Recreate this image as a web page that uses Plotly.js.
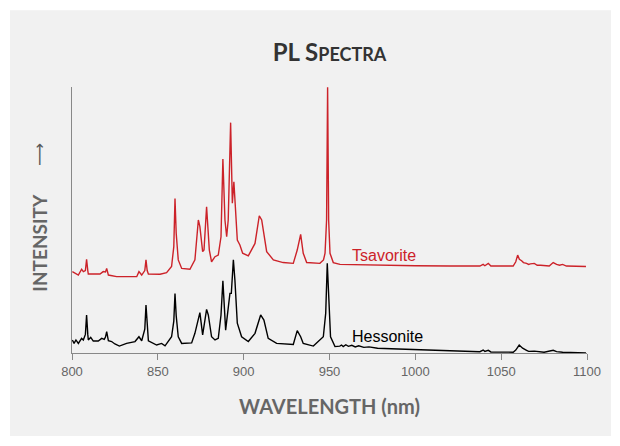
<!DOCTYPE html>
<html>
<head>
<meta charset="utf-8">
<script src="https://cdn.plot.ly/plotly-3.0.1.min.js"></script>
<style>html,body{margin:0;padding:0;background:#fff;}#chart{width:620px;height:446px;}</style>
</head>
<body>
<div id="chart"></div>
<script>
// Wavelength (nm) and relative intensity
const wlTsavorite = [800.2, 801.7, 803.7, 805.6, 806.6, 807.8, 808.5, 809.2, 809.5, 812, 816.3, 818.2, 819.5, 820.2, 821.2, 826, 832, 837.7, 839, 840.6, 842.4, 843.1, 843.8, 844.5, 851.3, 855.1, 858, 859.3, 860, 860.7, 861.9, 863.9, 868.7, 871.6, 873.6, 874.5, 876.1, 876.9, 878.4, 880, 881.3, 883.3, 885.2, 886.8, 887.9, 889.1, 890.1, 891.0, 892.4, 893.4, 894.3, 895.3, 896.3, 897.8, 899.4, 902.7, 906.6, 909.1, 910.5, 913.4, 917.3, 923, 928.9, 931.2, 933.2, 934.7, 936.7, 944.4, 946.5, 947.4, 948.3, 948.9, 949.5, 950.3, 951.5, 952.2, 956.1, 980, 1000, 1020, 1037.6, 1039.5, 1040.5, 1042.5, 1044, 1057, 1058.5, 1059.6, 1060.6, 1061.9, 1063, 1064.8, 1066, 1067, 1069.3, 1071, 1073, 1078, 1080.3, 1082.3, 1084, 1085.8, 1088, 1099.4];
const tsavorite = [30.6, 29.9, 29.3, 31.5, 30.6, 31, 35.2, 31, 29.7, 29.7, 29.7, 30.6, 30.5, 31.8, 29.3, 28.7, 28.6, 28.7, 30.6, 29.3, 31, 35.0, 31, 29.7, 29.6, 30.2, 32.5, 40, 58.1, 45, 35.0, 31.8, 31.5, 35.0, 50.0, 47.5, 38.1, 38.7, 55.0, 38.7, 34.3, 36.2, 36.8, 43.7, 72.9, 50.0, 43.7, 50.0, 86.6, 56.3, 64.4, 52.5, 42.5, 40.6, 37.5, 36.5, 41.2, 51.6, 50.0, 38.1, 35.0, 34.0, 33.7, 38.7, 44.6, 37.5, 34.0, 33.7, 35, 37.5, 50, 99.9, 50, 37.5, 35, 34.0, 33.3, 32.9, 32.8, 32.7, 32.7, 33.3, 32.8, 33.7, 32.7, 32.7, 34.3, 36.8, 35.2, 34.7, 34.0, 33.7, 33.3, 33.5, 33.7, 33.0, 33.0, 32.7, 34.0, 33.3, 33.0, 33.3, 32.7, 32.5];

const wlHessonite = [800.2, 801.2, 802.3, 803.7, 805.6, 806.6, 807.8, 808.5, 809.2, 809.5, 810.9, 812.4, 815.3, 817.3, 818.8, 819.5, 820.2, 821.2, 823.1, 825, 827.6, 831.8, 836.7, 839, 840.6, 842.4, 843.1, 843.8, 844.5, 849.3, 852.2, 854.2, 858, 859.3, 860, 860.7, 861.9, 863.9, 869.7, 871.6, 873.2, 874.5, 876.1, 877.1, 878.4, 879.4, 881.3, 883.3, 885.2, 886.8, 887.9, 889.5, 890.7, 892.0, 892.8, 894.0, 894.9, 896.3, 898.8, 902.7, 906.6, 909.9, 911.8, 914.3, 919.2, 928.9, 931.2, 933.2, 934.7, 940.6, 946.4, 947.8, 948.7, 949.6, 950.6, 953.2, 956, 957, 958, 959.5, 961, 963, 965, 967, 970, 973, 978, 990, 1010, 1030, 1037.6, 1039.5, 1040.5, 1042.5, 1044, 1057, 1058.5, 1060.5, 1062.5, 1064.8, 1066, 1069.3, 1071, 1075, 1080.3, 1082.3, 1085.8, 1099.4];
const hessonite = [4.9, 3.6, 4.9, 3.6, 5.5, 4.9, 7, 14.3, 7, 4.9, 5.9, 4.5, 4.5, 5.5, 5.1, 6, 8.0, 4.6, 4.3, 3.4, 2.6, 3.6, 4.3, 6.1, 4.6, 9, 18.0, 9, 4.6, 3.0, 3.6, 2.7, 6.1, 12, 22.4, 14, 6.1, 3.6, 3.8, 7.4, 12.4, 15.2, 6.8, 11.2, 16.4, 14.3, 6.1, 4.9, 5.5, 14.3, 27.1, 8.6, 14.3, 22.4, 22.4, 35.0, 27.4, 11.2, 6.1, 4.3, 7.4, 14.3, 12.4, 5.5, 3.6, 3.2, 8.4, 6.1, 3.6, 2.6, 6.1, 15, 33.7, 20, 6.1, 2.4, 2.6, 3.0, 2.4, 3.1, 2.5, 2.9, 2.3, 2.7, 2.1, 2.3, 1.8, 1.5, 1.0, 0.6, 0.5, 1.1, 0.6, 1.0, 0.4, 0.3, 1.1, 3.0, 1.8, 1.0, 0.6, 0.7, 0.5, 0.3, 1.0, 0.5, 0.3, 0.0];

const seriesNames = ["Tsavorite", "Hessonite"];
const seriesColors = ["#cc2229", "#000000"];
const xTicks = [800, 850, 900, 950, 1000, 1050, 1100];
const labelPos = [[961.9, 36.8], [961.9, 6.2]];

const traces = [
  {x: wlTsavorite, y: tsavorite, name: seriesNames[0], type: "scatter", mode: "lines",
   line: {color: seriesColors[0], width: 1.4}, hoverinfo: "skip"},
  {x: wlHessonite, y: hessonite, name: seriesNames[1], type: "scatter", mode: "lines",
   line: {color: seriesColors[1], width: 1.4}, hoverinfo: "skip"}
];

const annotations = seriesNames.map((n, i) => ({
  x: labelPos[i][0], y: labelPos[i][1], xref: "x", yref: "y", text: n,
  showarrow: false, xanchor: "left", yanchor: "middle",
  font: {family: "Liberation Sans, Arial, sans-serif", size: 16, color: seriesColors[i]}
}));
annotations.push({
  xref: "paper", yref: "paper", x: -0.062, y: 0.415, text: "INTENSITY", textangle: -90,
  showarrow: false, xanchor: "center", yanchor: "middle",
  font: {family: "Lato, sans-serif", size: 19, color: "#666", weight: "bold"}
});
annotations.push({
  xref: "paper", yref: "paper", x: -0.062, y: 0.745, text: "⟶", textangle: -90,
  showarrow: false, xanchor: "center", yanchor: "middle",
  font: {family: "DejaVu Sans, sans-serif", size: 16, color: "#555"}
});

const layout = {
  width: 620, height: 446,
  margin: {l: 72, r: 33, t: 87, b: 93},
  paper_bgcolor: "#ffffff",
  plot_bgcolor: "#ffffff",
  showlegend: false,
  title: {
    text: "<b>PL S<span style='font-size:18px'>PECTRA</span></b>",
    font: {family: "Lato, sans-serif", size: 24, color: "#333"},
    x: 0.5, xref: "paper", y: 0.882, yref: "container", yanchor: "middle"
  },
  xaxis: {
    range: [800, 1100], tickvals: xTicks, ticktext: xTicks.map(String),
    ticks: "outside", ticklen: 6, tickcolor: "#888", tickwidth: 1,
    showline: true, linecolor: "#888", linewidth: 1, showgrid: false, zeroline: false,
    tickfont: {family: "Liberation Sans, Arial, sans-serif", size: 13, color: "#666"},
    title: {text: "<b>WAVELENGTH (nm)</b>", standoff: 22,
            font: {family: "Lato, sans-serif", size: 20, color: "#666"}}
  },
  yaxis: {
    range: [0, 100], showticklabels: false, ticks: "", showgrid: false, zeroline: false,
    showline: true, linecolor: "#888", linewidth: 1, fixedrange: true
  },
  shapes: [{
    type: "rect", xref: "paper", yref: "paper", layer: "below",
    x0: -0.1204, x1: 1.0466, y0: -0.312, y1: 1.289,
    fillcolor: "#f1f1f1", line: {width: 0}
  }],
  annotations: annotations
};

Plotly.newPlot("chart", traces, layout, {displayModeBar: false, staticPlot: true});
</script>
</body>
</html>
